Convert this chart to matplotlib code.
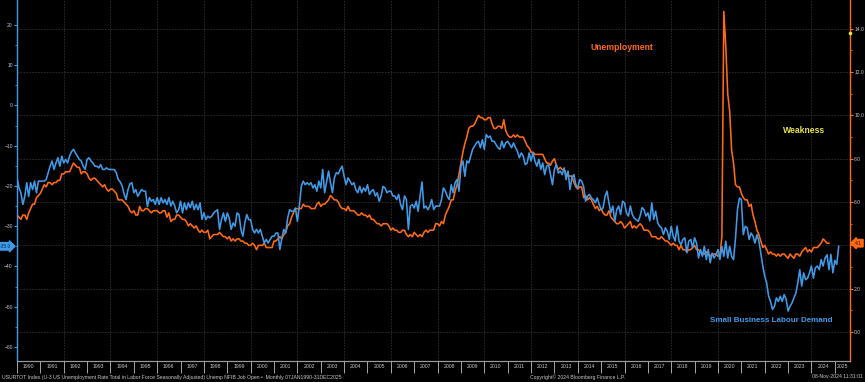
import numpy as np
import matplotlib
matplotlib.use("Agg")
import matplotlib.pyplot as plt
from matplotlib.ticker import FixedLocator, NullFormatter, FuncFormatter

# U-3 unemployment rate, monthly from Jan 1990 (right axis)
unemp = [
    5.4, 5.3, 5.2, 5.4, 5.4, 5.2, 5.5, 5.7, 5.9, 5.9, 6.2, 6.3,   # 1990
    6.4, 6.6, 6.8, 6.7, 6.9, 6.9, 6.8, 6.9, 6.9, 7.0, 7.0, 7.3,   # 1991
    7.3, 7.4, 7.4, 7.4, 7.6, 7.8, 7.7, 7.6, 7.6, 7.3, 7.4, 7.4,   # 1992
    7.3, 7.1, 7.0, 7.1, 7.1, 7.0, 6.9, 6.8, 6.7, 6.8, 6.6, 6.5,   # 1993
    6.6, 6.6, 6.5, 6.4, 6.1, 6.1, 6.1, 6.0, 5.9, 5.8, 5.6, 5.5,   # 1994
    5.6, 5.4, 5.4, 5.8, 5.6, 5.6, 5.7, 5.7, 5.6, 5.5, 5.6, 5.6,   # 1995
    5.6, 5.5, 5.5, 5.6, 5.6, 5.3, 5.5, 5.1, 5.2, 5.2, 5.4, 5.4,   # 1996
    5.3, 5.2, 5.2, 5.1, 4.9, 5.0, 4.9, 4.8, 4.9, 4.7, 4.6, 4.7,   # 1997
    4.6, 4.6, 4.7, 4.3, 4.4, 4.5, 4.5, 4.5, 4.6, 4.5, 4.4, 4.4,   # 1998
    4.3, 4.4, 4.2, 4.3, 4.2, 4.3, 4.3, 4.2, 4.2, 4.1, 4.1, 4.0,   # 1999
    4.0, 4.1, 4.0, 3.8, 4.0, 4.0, 4.0, 4.1, 3.9, 3.9, 3.9, 3.9,   # 2000
    4.2, 4.2, 4.3, 4.4, 4.3, 4.5, 4.6, 4.9, 5.0, 5.3, 5.5, 5.7,   # 2001
    5.7, 5.7, 5.7, 5.9, 5.8, 5.8, 5.8, 5.7, 5.7, 5.7, 5.9, 6.0,   # 2002
    5.8, 5.9, 5.9, 6.0, 6.1, 6.3, 6.2, 6.1, 6.1, 6.0, 5.8, 5.7,   # 2003
    5.7, 5.6, 5.8, 5.6, 5.6, 5.6, 5.5, 5.4, 5.4, 5.5, 5.4, 5.4,   # 2004
    5.3, 5.4, 5.2, 5.2, 5.1, 5.0, 5.0, 4.9, 5.0, 5.0, 5.0, 4.9,   # 2005
    4.7, 4.8, 4.7, 4.7, 4.6, 4.6, 4.7, 4.7, 4.5, 4.4, 4.5, 4.4,   # 2006
    4.6, 4.5, 4.4, 4.5, 4.4, 4.6, 4.7, 4.6, 4.7, 4.7, 4.7, 5.0,   # 2007
    5.0, 4.9, 5.1, 5.0, 5.4, 5.6, 5.8, 6.1, 6.1, 6.5, 6.8, 7.3,   # 2008
    7.8, 8.3, 8.7, 9.0, 9.4, 9.5, 9.5, 9.6, 9.8, 10.0, 9.9, 9.9,  # 2009
    9.8, 9.8, 9.9, 9.9, 9.6, 9.4, 9.4, 9.5, 9.5, 9.4, 9.8, 9.3,   # 2010
    9.1, 9.0, 9.0, 9.1, 9.0, 9.1, 9.0, 9.0, 9.0, 8.8, 8.6, 8.5,   # 2011
    8.3, 8.3, 8.2, 8.2, 8.2, 8.2, 8.2, 8.0, 7.8, 7.8, 7.7, 7.9,   # 2012
    8.0, 7.7, 7.5, 7.6, 7.5, 7.5, 7.3, 7.2, 7.2, 7.2, 6.9, 6.7,   # 2013
    6.6, 6.7, 6.7, 6.2, 6.3, 6.1, 6.2, 6.1, 5.9, 5.7, 5.8, 5.6,   # 2014
    5.7, 5.5, 5.4, 5.4, 5.6, 5.3, 5.2, 5.1, 5.0, 5.0, 5.1, 5.0,   # 2015
    4.8, 4.9, 5.0, 5.1, 4.8, 4.9, 4.8, 4.9, 5.0, 4.9, 4.7, 4.7,   # 2016
    4.7, 4.6, 4.4, 4.4, 4.4, 4.3, 4.3, 4.4, 4.3, 4.2, 4.2, 4.1,   # 2017
    4.0, 4.1, 4.0, 4.0, 3.8, 4.0, 3.8, 3.8, 3.7, 3.8, 3.8, 3.9,   # 2018
    4.0, 3.8, 3.8, 3.7, 3.6, 3.6, 3.7, 3.6, 3.5, 3.6, 3.6, 3.6,   # 2019
    3.5, 3.5, 4.4, 14.8, 13.2, 11.0, 10.2, 8.4, 7.8, 6.8, 6.7, 6.7,  # 2020
    6.4, 6.2, 6.1, 6.1, 5.8, 5.9, 5.4, 5.1, 4.7, 4.5, 4.2, 3.9,   # 2021
    4.0, 3.8, 3.6, 3.7, 3.6, 3.6, 3.5, 3.6, 3.5, 3.6, 3.6, 3.5,   # 2022
    3.4, 3.6, 3.5, 3.4, 3.6, 3.6, 3.5, 3.7, 3.8, 3.9, 3.7, 3.8,   # 2023
    3.7, 3.9, 3.9, 3.9, 4.0, 4.1, 4.3, 4.2, 4.1, 4.1,             # 2024
]

# NFIB job openings (inverted, as plotted), monthly from Jan 1990 (left axis)
nfib = [
    -17.9, -20.5, -21.7, -24.6, -22.6, -19.2, -22.6, -19.2, -20.9, -18.8, -21.7, -18.8,
    -18.8, -18.8, -18.8, -18.4, -16.7, -15.1, -13.8, -15.9, -14.3, -13.0, -15.1, -12.6,
    -14.3, -13.4, -14.3, -12.6, -11.5, -10.9, -11.8, -12.6, -13.4, -13.8, -15.1, -15.9,
    -13.4, -13.0, -13.8, -14.3, -15.1, -15.1, -15.5, -14.7, -15.9, -15.9, -15.5, -15.9,
    -15.9, -15.9, -16.0, -16.7, -18.4, -19.0, -20.0, -22.0, -23.4, -20.9, -19.5, -19.2,
    -21.7, -20.9, -22.6, -21.7, -20.9, -21.3, -21.3, -25.1, -22.9, -23.8, -23.4, -24.6,
    -22.9, -24.6, -22.9, -24.2, -23.4, -24.6, -22.9, -25.0, -23.8, -25.0, -26.7, -25.9,
    -23.8, -26.7, -24.2, -25.9, -24.2, -25.4, -23.8, -25.9, -24.6, -25.9, -24.2, -28.3,
    -26.7, -28.4, -27.5, -27.9, -27.5, -26.7, -26.3, -25.9, -30.8, -28.4, -26.7, -28.8,
    -26.7, -28.0, -30.8, -29.2, -30.0, -26.7, -27.1, -30.8, -32.5, -29.2, -27.1, -28.4,
    -28.4, -30.8, -31.7, -30.8, -31.7, -30.8, -32.5, -34.2, -33.3, -34.2, -33.3, -32.5,
    -32.5, -31.7, -31.7, -35.8, -33.0, -30.8, -31.7, -28.0, -25.9, -26.3, -26.3, -25.5,
    -28.8, -25.0, -20.1, -18.8, -19.7, -19.2, -19.7, -19.2, -20.5, -19.7, -21.3, -18.8,
    -20.5, -15.9, -21.7, -19.0, -16.3, -19.2, -21.7, -18.0, -16.7, -17.0, -15.9, -15.1,
    -17.6, -19.7, -18.0, -18.8, -19.7, -19.2, -20.9, -21.7, -20.1, -21.7, -20.5, -21.3,
    -19.7, -22.1, -21.3, -20.9, -22.5, -21.7, -23.8, -22.5, -20.1, -20.5, -21.7, -21.3,
    -21.3, -22.5, -22.5, -23.4, -22.1, -24.6, -25.9, -22.5, -23.4, -30.8, -25.0, -24.6,
    -25.5, -23.8, -26.3, -22.5, -19.0, -25.5, -25.0, -25.9, -25.0, -23.4, -25.9, -25.0,
    -25.0, -25.0, -23.4, -20.5, -21.3, -22.6, -23.4, -19.7, -21.7, -19.2, -18.4, -21.3,
    -15.1, -13.8, -17.6, -13.8, -14.3, -12.6, -10.9, -10.1, -9.3, -8.9, -10.5, -8.5,
    -10.9, -7.2, -8.0, -7.6, -8.9, -8.9, -9.7, -10.5, -10.9, -8.9, -10.5, -9.3,
    -8.9, -9.7, -10.5, -9.3, -10.5, -11.4, -13.0, -11.8, -12.6, -14.7, -14.3, -11.8,
    -13.8, -11.8, -13.8, -15.1, -13.4, -15.9, -14.3, -17.2, -15.1, -14.7, -17.2, -19.7,
    -15.9, -14.7, -16.8, -16.3, -17.2, -15.5, -18.4, -16.3, -20.9, -18.0, -17.2, -19.7,
    -20.5, -18.4, -18.8, -20.1, -23.8, -22.6, -22.1, -23.0, -23.4, -24.2, -23.0, -24.6,
    -25.9, -25.4, -22.6, -21.3, -24.2, -26.7, -25.0, -28.8, -25.9, -25.0, -27.1, -23.8,
    -24.2, -26.7, -27.5, -25.0, -27.1, -28.0, -28.4, -28.8, -27.5, -25.4, -25.9, -27.5,
    -26.7, -28.7, -24.2, -28.3, -26.3, -29.1, -30.0, -30.4, -32.1, -30.4, -31.3, -33.3,
    -30.0, -32.5, -33.7, -30.0, -33.7, -34.6, -33.3, -32.9, -36.6, -33.7, -33.3, -35.4,
    -32.9, -34.2, -37.9, -35.8, -37.5, -35.0, -38.3, -35.8, -39.1, -36.7, -37.9, -37.1,
    -35.8, -38.3, -35.0, -37.5, -33.7, -37.9, -35.0, -37.5, -38.3, -33.0, -25.9, -23.0,
    -23.4, -32.1, -30.0, -30.4, -33.3, -31.7, -32.5, -34.2, -32.1, -33.7, -36.7, -39.9,
    -42.4, -44.1, -47.4, -48.7, -50.7, -49.9, -47.8, -48.7, -47.4, -48.7, -47.0, -48.2,
    -51.1, -49.9, -49.1, -47.8, -46.6, -44.1, -40.8, -44.9, -41.6, -43.3, -42.9, -41.6,
    -39.9, -42.9, -40.4, -39.9, -40.8, -38.3, -39.9, -37.9, -37.1, -40.8, -37.0, -41.6,
    -38.5, -39.5, -35.0,
]

years = list(range(1990, 2026))
left_ticks = [-60, -50, -40, -30, -20, -10, 0, 10, 20]
right_ticks = [0, 2, 4, 6, 8, 10, 12, 14]
last_nfib = nfib[-1]
last_unemp = unemp[-1]

ORANGE = "#ff6a13"
BLUE = "#3f9be9"
YELLOW = "#e8e24a"
GRID = "#2f2f2f"
TXT = "#c8c8c8"

plt.rcParams["font.family"] = ["Liberation Sans", "DejaVu Sans"]
fig = plt.figure(figsize=(8.65, 3.82), dpi=100, facecolor="black")
ax = fig.add_axes([17 / 865, 21 / 382, 833 / 865, 361 / 382])
ax2 = ax.twinx()
ax.set_facecolor("black")
ax2.set_facecolor("black")
ax.set_zorder(ax2.get_zorder() + 1)
ax.patch.set_visible(False)

t_u = 1990 + np.arange(len(unemp)) / 12
t_n = 1990 + np.arange(len(nfib)) / 12
ax2.plot(t_u, unemp, color=ORANGE, lw=1.15, zorder=3)
ax.plot(t_n, nfib, color=BLUE, lw=1.15, zorder=4)

ax.set_xlim(1990, 2025.65)
ax.set_ylim(-63.5, 26.2)
ax2.set_ylim(-1.34, 15.33)

# x axis: separators at year starts, labels centred in each year
ax.xaxis.set_major_locator(FixedLocator(years))
ax.xaxis.set_major_formatter(NullFormatter())
mids = [y + 0.5 for y in years[:-1]] + [(years[-1] + 2025.65) / 2]
ax.xaxis.set_minor_locator(FixedLocator(mids))
ax.set_xticklabels([str(y) for y in years], minor=True)
ax.tick_params(axis="x", which="major", direction="out", length=8.5,
               width=0.6, color="#bdbdbd")
ax.tick_params(axis="x", which="minor", length=0, pad=2.5,
               labelsize=3.7, labelcolor=TXT)

# left axis
ax.set_yticks(left_ticks)
ax.yaxis.set_minor_locator(FixedLocator([v + 5 for v in left_ticks[:-1]]))
ax.tick_params(axis="y", which="major", direction="out", length=2, width=0.8,
               color=BLUE, labelsize=3.6, labelcolor=TXT, pad=1)
ax.tick_params(axis="y", which="minor", direction="out", length=1.2,
               width=0.6, color=BLUE)

# right axis (the 4.0 label sits under the last-value tag)
ax2.set_yticks(right_ticks)
ax2.yaxis.set_major_formatter(
    FuncFormatter(lambda v, p: "" if abs(v - 4) < 0.01 else f"{v:.1f}"))
ax2.yaxis.set_minor_locator(FixedLocator([v + 1 for v in right_ticks[:-1]]))
ax2.tick_params(axis="y", which="major", direction="out", length=2, width=0.8,
                color=ORANGE, labelsize=3.6, labelcolor=TXT, pad=1)
ax2.tick_params(axis="y", which="minor", direction="out", length=1.2,
                width=0.6, color=ORANGE)

# grid: horizontal from right axis, vertical on even years
ax2.grid(axis="y", color=GRID, lw=0.6, ls=(0, (2, 1.5)))
ax2.set_axisbelow(True)
for y in years:
    if y % 2 == 0 and y > 1990:
        ax2.axvline(y, color=GRID, lw=0.6, ls=(0, (2, 1.5)), zorder=0)

for a in (ax, ax2):
    a.spines["top"].set_visible(False)
    a.spines["bottom"].set_color("#9a9a9a")
    a.spines["bottom"].set_linewidth(0.8)
ax.spines["left"].set_color(BLUE)
ax.spines["left"].set_linewidth(1.0)
ax.spines["right"].set_visible(False)
ax2.spines["left"].set_visible(False)
ax2.spines["right"].set_color(ORANGE)
ax2.spines["right"].set_linewidth(1.0)

# last-value tags
ax.annotate(f"{last_nfib:.1f}", xy=(0, last_nfib),
            xycoords=("axes fraction", "data"), xytext=(-8.5, 0),
            textcoords="offset points", ha="center", va="center",
            fontsize=3.6, color="#0a2a4a", annotation_clip=False,
            bbox=dict(boxstyle="rarrow,pad=0.25", fc=BLUE, ec=BLUE))
ax2.annotate(f"{last_unemp:.1f}", xy=(1, last_unemp),
             xycoords=("axes fraction", "data"), xytext=(6, 0),
             textcoords="offset points", ha="center", va="center",
             fontsize=3.6, color="#3a1500", annotation_clip=False,
             bbox=dict(boxstyle="larrow,pad=0.25", fc=ORANGE, ec=ORANGE))
ax2.plot([1], [13.8], transform=ax2.get_yaxis_transform(), marker="o",
         ms=1.6, color=YELLOW, clip_on=False, zorder=6)

# series labels
ax.text(621.5 / 865, 1 - 48 / 382, "Unemployment", transform=fig.transFigure,
        color=ORANGE, fontsize=6.2, fontweight="bold", ha="center", va="center")
ax.text(804 / 865, 1 - 130 / 382, "Weakness", transform=fig.transFigure,
        color=YELLOW, fontsize=6.2, fontweight="bold", ha="center", va="center")
ax.text(771 / 865, 1 - 321 / 382, "Small Business Labour Demand",
        transform=fig.transFigure, color=BLUE, fontsize=5.8,
        fontweight="bold", ha="center", va="center")

# footer
fig.text(2 / 865, 5 / 382,
         "USURTOT Index (U-3 US Unemployment Rate Total in Labor Force Seasonally "
         "Adjusted) Unemp NFIB Job Open \u2022  Monthly 07JAN1990-31DEC2025",
         color=TXT, fontsize=3.7, ha="left", va="center")
fig.text(577 / 865, 5 / 382, "Copyright\u00a9 2024 Bloomberg Finance L.P.",
         color=TXT, fontsize=3.7, ha="center", va="center")
fig.text(863 / 865, 5 / 382, "08-Nov-2024 11:31:01",
         color=TXT, fontsize=3.7, ha="right", va="center")

fig.savefig("out.png", dpi=100, facecolor="black")
